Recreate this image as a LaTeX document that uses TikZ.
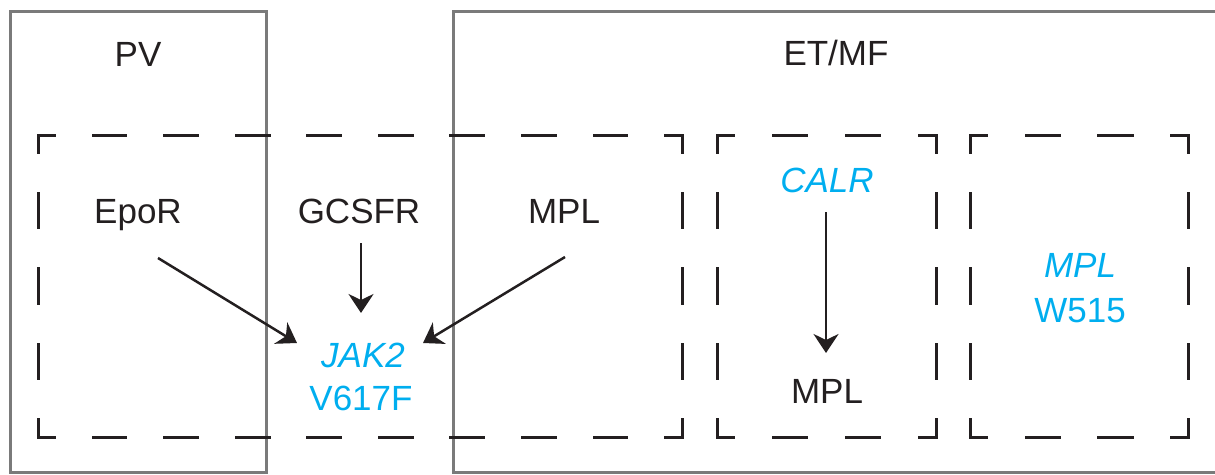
\documentclass[tikz,border=0pt]{standalone}
\usepackage{fontspec}
\setmainfont{Liberation Sans}
\usetikzlibrary{arrows.meta,calc}

\definecolor{genecyan}{HTML}{00AEEF}
\definecolor{boxgray}{HTML}{7A7A7A}
\definecolor{inkdark}{HTML}{231F20}

\begin{document}
\begin{tikzpicture}[x=1pt,y=-1pt,
  txt/.style={anchor=base, inner sep=0pt, font=\fontsize{35}{42}\selectfont, text=inkdark},
  gene/.style={txt, text=genecyan},
  outer/.style={draw=boxgray, line width=3pt},
  dbox/.style={draw=inkdark, line width=3pt, line cap=rect},
  arr/.style={-{Stealth[length=19pt,width=25pt,inset=6pt]}, line width=2.5pt, draw=inkdark}]
   \useasboundingbox (0,0) rectangle (1215,474);
   \clip (0,0) rectangle (1215,474);

   % disease boxes
   \draw[outer] (10,472) rectangle (266,11);
   \draw[outer] (1230,472) -- (453,472) -- (453,11) -- (1230,11);
   \node[txt] (pv)   at (138,66) {PV};
   \node[txt] (etmf) at (836,65) {ET/MF};

   % dashed receptor groups
   \foreach \xa/\xb/\nh in {38/682/9, 717/936/3, 970/1188/3}{
     \pgfmathsetmacro\hon{(\xb-\xa)/\nh/2-3}
     \pgfmathsetmacro\hoff{(\xb-\xa)/\nh/2+3}
     \pgfmathsetmacro\hph{(\xb-\xa)/\nh/4-1.5}
     \draw[dbox, dash pattern=on \hon pt off \hoff pt, dash phase=\hph pt]
       (\xa,135) -- (\xb,135);
     \draw[dbox, dash pattern=on \hon pt off \hoff pt, dash phase=\hph pt]
       (\xa,437) -- (\xb,437);
     \draw[dbox, dash pattern=on 34.75pt off 40.75pt, dash phase=17.375pt]
       (\xa,135) -- (\xa,437);
     \draw[dbox, dash pattern=on 34.75pt off 40.75pt, dash phase=17.375pt]
       (\xb,135) -- (\xb,437);
   }

   \node[txt]  (epor)  at (138,223) {EpoR};
   \node[txt]  (gcsfr) at (359,223) {GCSFR};
   \node[txt]  (mplA)  at (564,223) {MPL};
   \node[gene] (jak)   at (363,367) {\itshape JAK2};
   \node[gene] (vsub)  at (361,410) {V617F};
   \node[gene] (calr)  at (827,192) {\itshape CALR};
   \node[txt]  (mplB)  at (827,403) {MPL};
   \node[gene] (mplC)  at (1080,277) {\itshape MPL};
   \node[gene] (wsub)  at (1080,322) {W515};

   \draw[arr] ($(epor.base)+(20,35)$)  -- ($(jak.base)+(-66,-24)$);
   \draw[arr] ($(gcsfr.base)+(2,20)$)  -- ($(jak.base)+(-2,-54)$);
   \draw[arr] ($(mplA.base)+(1,34)$)   -- ($(jak.base)+(60,-24)$);
   \draw[arr] ($(calr.base)+(-1,20)$)  -- ($(mplB.base)+(-1,-50)$);
\end{tikzpicture}
\end{document}
